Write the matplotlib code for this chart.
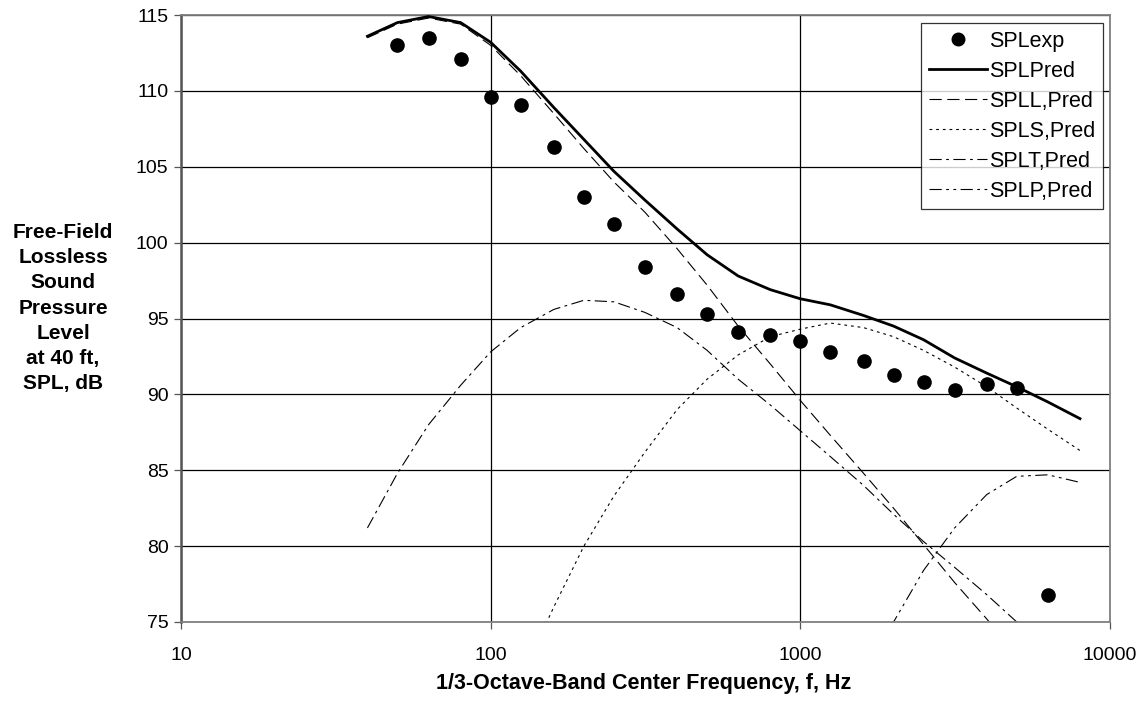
import numpy as np
import matplotlib
matplotlib.use("Agg")
import matplotlib.pyplot as plt

plt.rcParams["font.family"] = ["Liberation Sans", "DejaVu Sans"]

# 1/3-octave band centre frequencies, Hz
FREQ = [40, 50, 63, 80, 100, 125, 160, 200, 250, 315, 400, 500,
        630, 800, 1000, 1250, 1600, 2000, 2500, 3150, 4000, 5000, 6300, 8000]

# measured points (50 Hz .. 6300 Hz)
FREQ_EXP = [50, 63, 80, 100, 125, 160, 200, 250, 315, 400, 500, 630,
            800, 1000, 1250, 1600, 2000, 2500, 3150, 4000, 5000, 6300]
SPL_EXP = [113.0, 113.5, 112.1, 109.6, 109.1, 106.3, 103.0, 101.2, 98.4, 96.6, 95.3, 94.1,
           93.9, 93.5, 92.8, 92.2, 91.3, 90.8, 90.3, 90.7, 90.4, 76.8]

SPL_PRED = [113.6, 114.5, 114.9, 114.5, 113.2, 111.3, 108.9, 106.8, 104.7, 102.8, 100.9, 99.2,
            97.8, 96.9, 96.3, 95.9, 95.2, 94.5, 93.6, 92.4, 91.4, 90.5, 89.5, 88.4]
SPL_L = [113.5, 114.4, 114.8, 114.4, 113.0, 111.0, 108.5, 106.2, 104.0, 102.0, 99.6, 97.2,
         94.5, 92.0, 89.6, 87.3, 84.8, 82.5, 80.1, 77.6, 75.2, 72.8, 70.4, 68.0]
SPL_S = [np.nan, np.nan, np.nan, np.nan, np.nan, 71.3, 76.0, 80.0, 83.3, 86.2, 89.0, 91.0,
         92.6, 93.8, 94.3, 94.7, 94.4, 93.8, 92.9, 91.8, 90.5, 89.1, 87.7, 86.3]
SPL_T = [81.2, 84.8, 88.0, 90.6, 92.8, 94.4, 95.6, 96.2, 96.1, 95.4, 94.4, 92.9,
         91.0, 89.3, 87.6, 85.9, 84.0, 82.1, 80.3, 78.6, 76.8, 75.0, 73.2, 71.4]
SPL_P = [np.nan] * 16 + [71.0, 75.0, 78.4, 81.2, 83.4, 84.6, 84.7, 84.2]

fig = plt.figure(figsize=(11.46, 7.09), dpi=100)
ax = fig.add_axes([181 / 1146, 1 - 622 / 709, 929 / 1146, 607 / 709])

ax.set_xscale("log")
ax.set_xlim(10, 10000)
ax.set_ylim(75, 115)

# grid
ax.set_yticks(range(75, 116, 5))
ax.set_xticks([10, 100, 1000, 10000])
ax.set_xticklabels(["10", "100", "1000", "10000"])
ax.minorticks_off()
ax.grid(True, which="major", color="black", linewidth=0.9)
ax.set_axisbelow(True)

ax.tick_params(axis="both", labelsize=14, length=5, width=0.9, color="#555555", direction="out")
ax.tick_params(axis="x", pad=13)
ax.tick_params(axis="y", pad=4)
for s in ax.spines.values():
    s.set_color("#808080")
    s.set_linewidth(1.3)
ax.spines["left"].set_color("#555555")
ax.spines["left"].set_linewidth(1.8)

ax.plot(FREQ_EXP, SPL_EXP, linestyle="none", marker="o", markersize=9.5,
        color="black", label="SPLexp", zorder=5)
ax.plot(FREQ, SPL_PRED, color="black", linewidth=2.0, label="SPLPred", zorder=4)
ax.plot(FREQ, SPL_L, color="black", linewidth=0.8, dashes=(11, 5), label="SPLL,Pred")
ax.plot(FREQ, SPL_S, color="black", linewidth=0.8, dashes=(2.5, 3.5), label="SPLS,Pred")
ax.plot(FREQ, SPL_T, color="black", linewidth=0.8, dashes=(11, 4, 2.5, 4), label="SPLT,Pred")
ax.plot(FREQ, SPL_P, color="black", linewidth=0.8, dashes=(11, 4, 2.5, 4, 2.5, 4), label="SPLP,Pred")

leg = ax.legend(loc="upper right", bbox_to_anchor=((1103 - 181) / 929, (622 - 23) / 607),
                borderaxespad=0, fontsize=15.5, frameon=True, fancybox=False,
                handlelength=2.7, handletextpad=0.1, labelspacing=0.42,
                borderpad=0.35, markerscale=0.95)
leg.get_frame().set_edgecolor("black")
leg.get_frame().set_linewidth(0.9)

fig.text(63 / 1146, 1 - 308 / 709,
         "Free-Field\nLossless\nSound\nPressure\nLevel\nat 40 ft,\nSPL, dB",
         ha="center", va="center", fontsize=15, fontweight="bold", linespacing=1.42)
fig.text(644 / 1146, 1 - 684 / 709, "1/3-Octave-Band Center Frequency, f, Hz",
         ha="center", va="center", fontsize=15.5, fontweight="bold")

fig.savefig("out.png", dpi=100)
